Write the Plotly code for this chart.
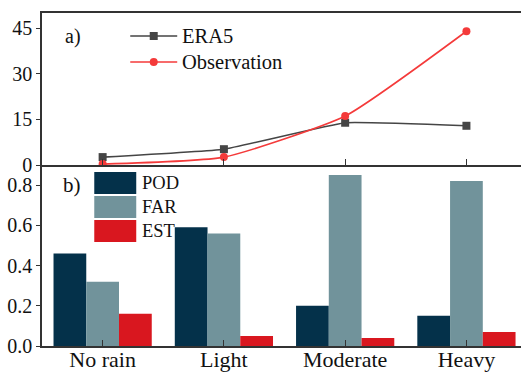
import plotly.graph_objects as go

# Rain intensity classes
categories = ["No rain", "Light", "Moderate", "Heavy"]

# Panel a: precipitation amount per class
era5 = [2.6, 5.2, 13.9, 12.9]
observation = [0.3, 2.6, 16.1, 44.0]

# Panel b: skill scores per class
pod = [0.46, 0.59, 0.20, 0.15]
far = [0.32, 0.56, 0.85, 0.82]
est = [0.16, 0.05, 0.04, 0.07]

y1_ticks = [0, 15, 30, 45]
y2_ticks = [0.0, 0.2, 0.4, 0.6, 0.8]

W, H = 521, 374
ML, MR, MT, MB = 41.7, 0, 13, 28
PW, PH = W - ML - MR, H - MT - MB

C_ERA = "#454545"
C_OBS = "#f43a3a"
C_POD = "#04314a"
C_FAR = "#71939b"
C_EST = "#d9171f"
AX = "#333333"
FONT = "Liberation Serif"


def px(x):
    return (x - ML) / PW


def py(y):
    return (H - MB - y) / PH


split = py(165)
xs = list(range(len(categories)))

fig = go.Figure()

fig.add_trace(go.Scatter(
    x=xs, y=era5, mode="lines+markers", xaxis="x", yaxis="y",
    line=dict(color=C_ERA, width=1.6, shape="spline", smoothing=0.3),
    marker=dict(symbol="square", size=8, color=C_ERA), showlegend=False))
fig.add_trace(go.Scatter(
    x=xs, y=observation, mode="lines+markers", xaxis="x", yaxis="y",
    line=dict(color=C_OBS, width=1.6, shape="spline", smoothing=0.5),
    marker=dict(symbol="circle", size=8, color=C_OBS), showlegend=False))

for vals, col in [(pod, C_POD), (far, C_FAR), (est, C_EST)]:
    fig.add_trace(go.Bar(
        x=xs, y=vals, xaxis="x2", yaxis="y2", marker_color=col,
        marker_line_width=0, showlegend=False))

xrange = [-0.5, 3.45]
ytickfont = dict(family=FONT, size=20, color="#111")
xtickfont = dict(family=FONT, size=22, color="#111")

fig.update_layout(
    width=W, height=H,
    margin=dict(l=ML, r=MR, t=MT, b=MB, autoexpand=False),
    paper_bgcolor="white", plot_bgcolor="white",
    barmode="group", bargap=0.19, bargroupgap=0,
    font=dict(family=FONT, size=20, color="#111"),
    xaxis=dict(domain=[0, 1], range=xrange, anchor="y", tickvals=xs,
               showticklabels=False, ticks="inside", ticklen=6,
               tickcolor=AX, tickwidth=1.3, showline=True, linecolor=AX,
               linewidth=1.6, mirror=True, showgrid=False, zeroline=False,
               automargin=False),
    yaxis=dict(domain=[split, 1], range=[0, 50], tickvals=y1_ticks,
               ticks="outside", ticklen=4, tickcolor=AX, tickwidth=1.3,
               showline=True, linecolor=AX, linewidth=1.6, showgrid=False,
               zeroline=False, tickfont=ytickfont, anchor="x",
               automargin=False),
    xaxis2=dict(domain=[0, 1], range=xrange, anchor="y2", tickvals=xs,
                ticktext=categories, ticks="inside", ticklen=6,
                tickcolor=AX, tickwidth=1.3, showline=True, linecolor=AX,
                linewidth=1.6, showgrid=False, zeroline=False,
                tickfont=xtickfont, automargin=False,
                ticklabelstandoff=-7),
    yaxis2=dict(domain=[0, split], range=[0, 0.9], tickvals=y2_ticks,
                tickformat=".1f", ticks="outside", ticklen=4, tickcolor=AX,
                tickwidth=1.3, showline=True, linecolor=AX, linewidth=1.6,
                showgrid=False, zeroline=False, tickfont=ytickfont,
                anchor="x2", automargin=False),
)

shapes = []
annotations = []

# Panel labels
annotations.append(dict(x=px(63), y=py(36), xref="paper", yref="paper",
                        text="a)", showarrow=False, xanchor="left",
                        yanchor="middle", font=dict(size=20)))
annotations.append(dict(x=px(61), y=py(185), xref="paper", yref="paper",
                        text="b)", showarrow=False, xanchor="left",
                        yanchor="middle", font=dict(size=21)))

# Line legend for panel a
for row_y, col, sym, name in [(36, C_ERA, "square", "ERA5"),
                              (62, C_OBS, "circle", "Observation")]:
    shapes.append(dict(type="line", xref="paper", yref="paper",
                       x0=px(130), x1=px(177), y0=py(row_y), y1=py(row_y),
                       line=dict(color=col, width=1.6)))
    kind = "rect" if sym == "square" else "circle"
    shapes.append(dict(type=kind, xref="paper", yref="paper",
                       x0=px(149.5), x1=px(157.5), y0=py(row_y - 4),
                       y1=py(row_y + 4), fillcolor=col, line=dict(width=0)))
    annotations.append(dict(x=px(180), y=py(row_y), xref="paper",
                            yref="paper", text=name, showarrow=False,
                            xanchor="left", yanchor="middle",
                            font=dict(size=20.5)))

# Box legend for panel b
for top, col, name in [(172, C_POD, "POD"), (196, C_FAR, "FAR"),
                       (220, C_EST, "EST")]:
    shapes.append(dict(type="rect", xref="paper", yref="paper",
                       x0=px(94), x1=px(136), y0=py(top + 22), y1=py(top),
                       fillcolor=col, line=dict(width=0)))
    annotations.append(dict(x=px(140), y=py(top + 11), xref="paper",
                            yref="paper", text=name, showarrow=False,
                            xanchor="left", yanchor="middle",
                            font=dict(size=18.5)))

fig.update_layout(shapes=shapes, annotations=annotations)

fig.write_html("out.html")
